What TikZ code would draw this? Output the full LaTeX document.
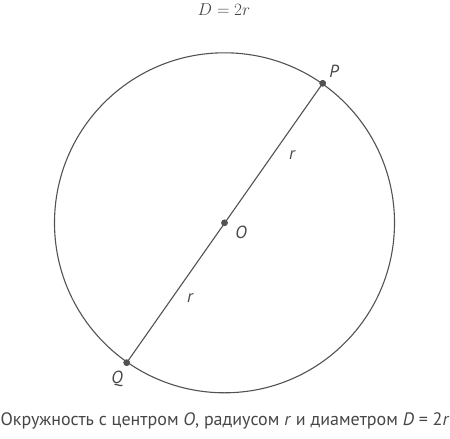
\documentclass[tikz,border=0pt]{standalone}
\usepackage{fontspec}
\setmainfont{PT Sans}
\begin{document}
\begin{tikzpicture}[x=1pt,y=-1pt,
  ln/.style={draw=black!68,line width=1.1pt},
  pt/.style={circle,fill=black!68,inner sep=0pt,minimum size=6.5pt},
  lbl/.style={text=black!72,font=\fontsize{17.5}{19}\selectfont\itshape,inner sep=0pt},
  titletext/.style={text=black!72,font=\fontsize{19}{21}\selectfont,inner sep=0pt},
  captext/.style={text=black!72,font=\fontsize{18}{19}\selectfont,inner sep=0pt}]
\useasboundingbox (0,0) rectangle (450,439);
\node[pt] (o) at (224.5,222.8) {};
\draw[ln] (o.center) circle[radius=170];
\node[pt] (p) at (322.7,83.3) {};
\node[pt] (q) at (126.7,362.7) {};
\draw[ln] (q.center) -- (p.center);
\node[pt] at (o) {};
\node[pt] at (p) {};
\node[pt] at (q) {};
\node[lbl] (lp) at (334,71) {P};
\node[lbl] (lo) at (241,232) {O};
\node[lbl] (lq) at (117,379) {Q};
\node[lbl] (r1) at (292,155) {r};
\node[lbl] (r2) at (190,298) {r};
\node[titletext] (t) at (224,10) {$D = 2r$};
\node[captext] (c) at (225,421) {Окружность с центром \textit{O}, радиусом \textit{r} и диаметром \textit{D} = 2\textit{r}};
\end{tikzpicture}
\end{document}
